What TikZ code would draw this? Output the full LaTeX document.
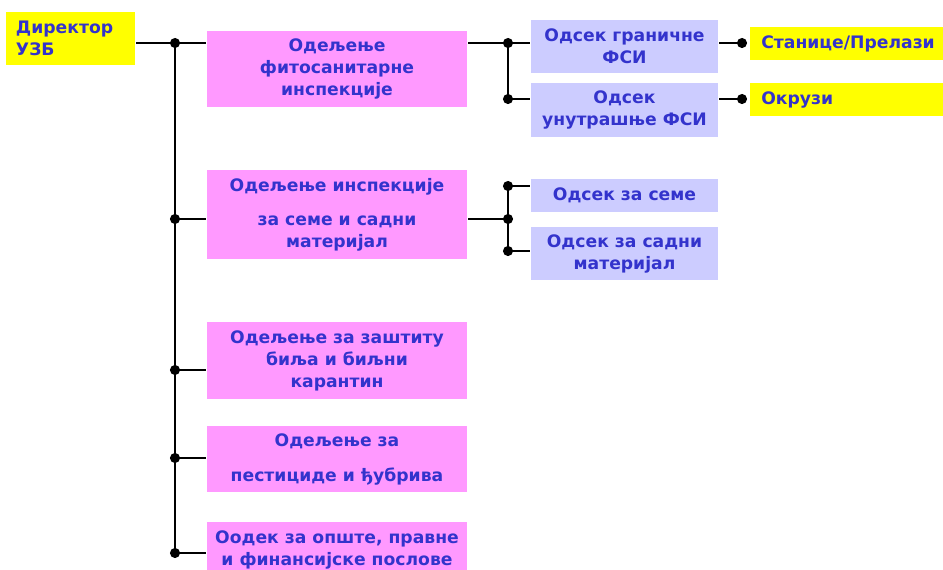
\documentclass[tikz,border=0pt]{standalone}
\usepackage{fontspec}
\setmainfont{DejaVu Sans}
\definecolor{txtblue}{RGB}{51,51,204}
\definecolor{pinkbox}{RGB}{255,153,255}
\definecolor{lilacbox}{RGB}{204,204,255}
\definecolor{yellowbox}{RGB}{255,255,0}
\tikzset{
  odelenje/.style={fill=pinkbox, minimum width=195pt},
  odsek/.style={fill=lilacbox, minimum width=140.25pt},
  oznaka/.style={fill=yellowbox, align=left, inner xsep=8.25pt, text width=140pt, minimum height=24.75pt, anchor=west},
}
\begin{document}
\begin{tikzpicture}[x=0.75pt,y=-0.75pt,line width=2pt,
  every node/.style={font=\fontsize{12.9pt}{16.5pt}\selectfont\bfseries, text=txtblue, inner sep=0pt, align=center}]
  \clip (0,0) rectangle (943,569);
  % director and the five departments
  \node[fill=yellowbox, align=left, inner xsep=7.5pt, text width=81.75pt, minimum height=39.75pt] (dir) at (70.5,38.5) {Директор\\УЗБ};
  \node[odelenje, minimum height=57pt] (od1) at (337,69) {Одељење\\фитосанитарне\\инспекције};
  \node[odelenje, minimum height=66.75pt] (od2) at (337,214.5) {Одељење инспекције\\[9pt]за семе и садни\\материјал};
  \node[odelenje, minimum height=57.75pt] (od3) at (337,360.5) {Одељење за заштиту\\биља и биљни\\карантин};
  \node[odelenje, minimum height=49.5pt] (od4) at (337,459) {Одељење за\\[9.75pt]пестициде и ђубрива};
  \node[odelenje, minimum height=42pt] (od5) at (337,550) {Оодек за опште, правне\\и финансијске послове};
  % sections
  \node[odsek, minimum height=39.75pt] (gr) at (624.5,46.5) {Одсек граничне\\ФСИ};
  \node[odsek, minimum height=40.5pt] (un) at (624.5,110) {Одсек\\унутрашње ФСИ};
  \node[odsek, minimum height=24.75pt] (se) at (624.5,195.5) {Одсек за семе};
  \node[odsek, minimum height=39.75pt] (sm) at (624.5,253.5) {Одсек за садни\\материјал};
  \node[oznaka] (st) at (749,43.5) {Станице/Прелази};
  \node[oznaka] (ok) at (749,99.5) {Окрузи};
  % junctions
  \coordinate (b1) at (175,43);
  \coordinate (b2) at (175,219);
  \coordinate (b3) at (175,370);
  \coordinate (b4) at (175,458);
  \coordinate (b5) at (175,553);
  \coordinate (c1) at (508,43);
  \coordinate (c2) at (508,99);
  \coordinate (d0) at (508,219);
  \coordinate (d1) at (508,186);
  \coordinate (d2) at (508,251);
  \coordinate (e1) at (742,43);
  \coordinate (e2) at (742,99);
  % main bus
  \draw (dir.east |- b1) -- (od1.west |- b1);
  \draw (b1) -- (b5);
  \foreach \j/\o in {2/od2,3/od3,4/od4,5/od5}
    \draw (b\j) -- (b\j -| \o.west);
  % branches to the sections
  \draw (od1.east |- c1) -- (gr.west |- c1);
  \draw (c1) -- (c2) -- (c2 -| un.west);
  \draw (od2.east |- d0) -- (d0);
  \draw (d1 -| se.west) -- (d1) -- (d2) -- (d2 -| sm.west);
  \draw (gr.east |- e1) -- (e1);
  \draw (un.east |- e2) -- (e2);
  \foreach \p in {b1,b2,b3,b4,b5,c1,c2,d0,d1,d2,e1,e2}
    \fill (\p) circle (3.8pt);
\end{tikzpicture}
\end{document}
